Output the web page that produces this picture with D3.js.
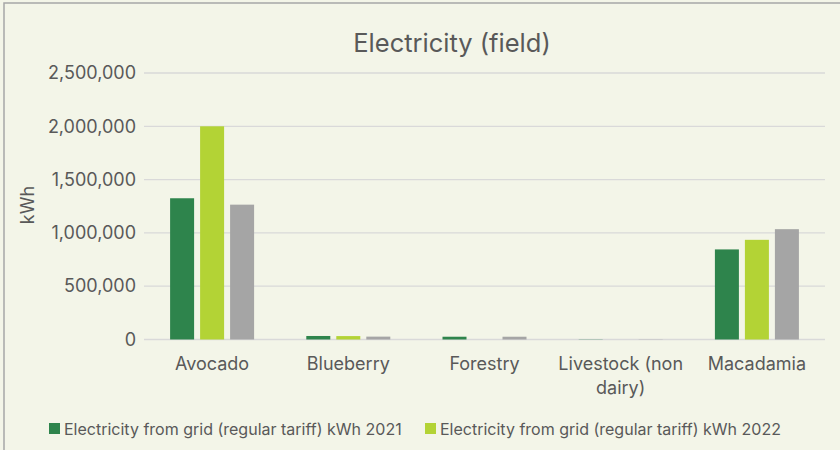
<!DOCTYPE html>
<html>
<head>
<meta charset="utf-8">
<script src="https://cdn.jsdelivr.net/npm/d3@7"></script>
<style>
  html, body { margin: 0; background: #f3f5e8; overflow: hidden; }
  svg { display: block; }
  text { font-family: Inter, "Open Sans", sans-serif; fill: #595959; }
</style>
</head>
<body>
<div id="chart"></div>
<script>
// data
var categories = ["Avocado", "Blueberry", "Forestry", "Livestock (non dairy)", "Macadamia"];
var seriesNames = [
    "Electricity from grid (regular tariff) kWh 2021",
    "Electricity from grid (regular tariff) kWh 2022"
];
var values2021 = [1325000, 33000, 26000, 2000, 845000];
var values2022 = [2000000, 32000, 0, 0, 935000];
var valuesThird = [1265000, 27000, 26000, 2000, 1035000]; // grey series, legend entry is off the picture
var yTicks = [0, 500000, 1000000, 1500000, 2000000, 2500000];
var colors = ["#2e844c", "#b3d335", "#a5a5a5"];

var allSeries = [values2021, values2022, valuesThird];

var width = 840, height = 450;
var margin = {top: 73, right: 15, bottom: 110, left: 144};

var svg = d3.select("#chart")
    .append("svg")
    .attr("width", width)
    .attr("height", height);

// background + chart frame
svg.append("rect")
    .attr("x", 0).attr("y", 0)
    .attr("width", width).attr("height", height)
    .attr("fill", "#f3f5e8");
svg.append("rect")
    .attr("x", 4).attr("y", 3)
    .attr("width", width + 20).attr("height", height + 20)
    .attr("fill", "none")
    .attr("stroke", "#a6a6a6")
    .attr("stroke-width", 1.5);

// title
svg.append("text")
    .attr("x", 452).attr("y", 52)
    .attr("text-anchor", "middle")
    .style("font-size", "25.5px")
    .text("Electricity (field)");

// scales
var x0 = d3.scaleBand()
    .domain(categories)
    .range([margin.left, width - margin.right])
    .paddingInner(0);

var groupWidth = 84;
var x1 = d3.scaleBand()
    .domain(d3.range(allSeries.length))
    .range([0, groupWidth])
    .paddingInner(0.2);

var y = d3.scaleLinear()
    .domain([0, 2500000])
    .range([height - margin.bottom - 0.5, margin.top]);

// gridlines
svg.append("g")
    .selectAll("line")
    .data(yTicks)
    .enter()
    .append("line")
        .attr("x1", margin.left)
        .attr("x2", width - margin.right)
        .attr("y1", function(d) { return y(d); })
        .attr("y2", function(d) { return y(d); })
        .attr("stroke", "#d9d9d9")
        .attr("stroke-width", 1.3);

// y axis labels
var yAxis = svg.append("g")
    .attr("transform", "translate(" + (margin.left - 8) + ",0)")
    .call(d3.axisLeft(y).tickValues(yTicks).tickSize(0).tickPadding(0).tickFormat(d3.format(",")));
yAxis.select(".domain").remove();
yAxis.selectAll("text")
    .style("font-size", "18px")
    .attr("fill", "#595959");

// y axis title
svg.append("text")
    .attr("transform", "translate(34,205)rotate(-90)")
    .attr("text-anchor", "middle")
    .style("font-size", "18px")
    .text("kWh");

// bars
var groups = svg.append("g")
    .selectAll("g")
    .data(categories)
    .enter()
    .append("g")
        .attr("transform", function(d) {
            return "translate(" + (x0(d) + (x0.bandwidth() - groupWidth) / 2) + ",0)";
        });

groups.selectAll("rect")
    .data(function(d, i) {
        return allSeries.map(function(s, k) { return {k: k, v: s[i]}; });
    })
    .enter()
    .append("rect")
        .attr("x", function(d) { return x1(d.k); })
        .attr("width", x1.bandwidth())
        .attr("y", function(d) { return y(d.v); })
        .attr("height", function(d) { return y(0) - y(d.v); })
        .attr("fill", function(d) { return colors[d.k]; });

// category labels (wrapped)
var xAxis = svg.append("g");
categories.forEach(function(c) {
    var lines = c === "Livestock (non dairy)" ? ["Livestock (non", "dairy)"] : [c];
    var t = xAxis.append("text")
        .attr("x", x0(c) + x0.bandwidth() / 2)
        .attr("y", 370)
        .attr("text-anchor", "middle")
        .style("font-size", "18px");
    lines.forEach(function(l, i) {
        t.append("tspan")
            .attr("x", x0(c) + x0.bandwidth() / 2)
            .attr("dy", i === 0 ? 0 : 24)
            .text(l);
    });
});

// legend
var legendX = [49, 425];
var legend = svg.append("g")
    .selectAll("g")
    .data(seriesNames)
    .enter()
    .append("g")
        .attr("transform", function(d, i) { return "translate(" + legendX[i] + ",423)"; });
legend.append("rect")
    .attr("width", 11).attr("height", 11)
    .attr("fill", function(d, i) { return colors[i]; });
legend.append("text")
    .attr("x", 15).attr("y", 12)
    .style("font-size", "16px")
    .text(function(d) { return d; });
</script>
</body>
</html>
